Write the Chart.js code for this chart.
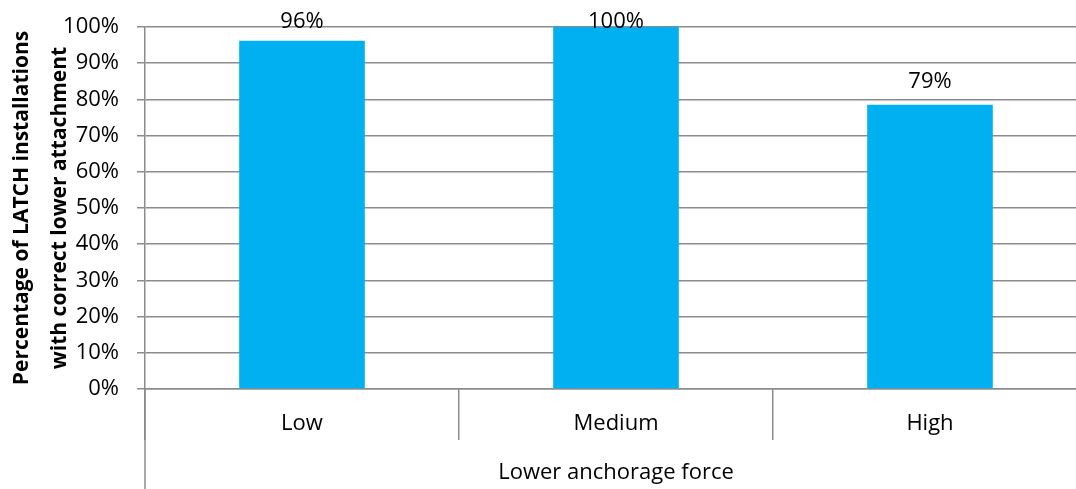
<!DOCTYPE html>
<html lang="en">
<head>
    <meta charset="UTF-8">
    <title>LATCH lower attachment</title>
    <script src="https://cdn.jsdelivr.net/npm/chart.js"></script>
    <style>
        body {
            margin: 0;
            padding: 0;
            width: 1076px;
            height: 489px;
            overflow: hidden;
            background: #fff;
        }
        #wrap {
            width: 1090px;
            height: 489px;
        }
    </style>
</head>
<body>
    <div id="wrap"><canvas id="latchChart" width="1090" height="489"></canvas></div>
    <script>
        const categories = ['Low', 'Medium', 'High'];
        const correctPct = [96.2, 100, 78.5];
        const valueLabels = ['96%', '100%', '79%'];
        const yTicks = [0, 10, 20, 30, 40, 50, 60, 70, 80, 90, 100];

        const gridGray = '#8c8c8c';
        const font = 'Open Sans';

        // value labels above each bar, kept inside the plot like Excel does
        const valueLabelPlugin = {
            id: 'valueLabels',
            afterDatasetsDraw(chart) {
                const ctx = chart.ctx;
                const meta = chart.getDatasetMeta(0);
                ctx.save();
                ctx.font = '22px "' + font + '"';
                ctx.fillStyle = '#000';
                ctx.textAlign = 'center';
                ctx.textBaseline = 'bottom';
                meta.data.forEach((bar, i) => {
                    const y = Math.max(bar.y - 12, chart.chartArea.top + 6);
                    ctx.fillText(valueLabels[i], bar.x, y);
                });
                ctx.restore();
            }
        };

        // the left axis line runs on down past the category labels
        const axisExtendPlugin = {
            id: 'axisExtend',
            afterDraw(chart) {
                const ctx = chart.ctx;
                const a = chart.chartArea;
                ctx.save();
                ctx.strokeStyle = gridGray;
                ctx.lineWidth = 1.5;
                ctx.beginPath();
                ctx.moveTo(a.left, a.bottom);
                ctx.lineTo(a.left, chart.height);
                ctx.stroke();
                ctx.restore();
            }
        };

        const ctx = document.getElementById('latchChart').getContext('2d');
        new Chart(ctx, {
            type: 'bar',
            data: {
                labels: categories,
                datasets: [{
                    data: correctPct,
                    backgroundColor: '#00b0f0',
                    barPercentage: 0.4,
                    categoryPercentage: 1
                }]
            },
            options: {
                responsive: false,
                animation: false,
                layout: { padding: { top: 27, right: 3, left: 0, bottom: 0 } },
                plugins: {
                    legend: { display: false },
                    tooltip: { enabled: false }
                },
                scales: {
                    x: {
                        offset: true,
                        grid: {
                            offset: true,
                            drawOnChartArea: false,
                            tickLength: 51,
                            color: gridGray,
                            lineWidth: 1.5
                        },
                        border: { color: gridGray, width: 1.5 },
                        ticks: {
                            color: '#000',
                            padding: -29,
                            font: { family: font, size: 22 }
                        },
                        title: {
                            display: true,
                            text: 'Lower anchorage force',
                            color: '#000',
                            font: { family: font, size: 22 },
                            padding: { top: 0, bottom: 3 }
                        },
                        afterFit(s) { s.height = 100; }
                    },
                    y: {
                        min: 0,
                        max: 100,
                        afterBuildTicks(s) { s.ticks = yTicks.map(v => ({ value: v })); },
                        grid: {
                            color: gridGray,
                            lineWidth: 1.5,
                            tickLength: 8
                        },
                        border: { color: gridGray, width: 1.5 },
                        ticks: {
                            color: '#000',
                            padding: 18,
                            font: { family: font, size: 22 },
                            callback: v => v + '%'
                        },
                        title: {
                            display: true,
                            text: ['Percentage of LATCH installations', 'with correct lower attachment'],
                            color: '#000',
                            font: { family: font, size: 21, weight: 'bold', lineHeight: '38px' },
                            padding: { top: 3, bottom: 0 }
                        },
                        afterFit(s) {
                            s.width = 145;
                            s.paddingTop = 0;
                            s.paddingBottom = 0;
                        }
                    }
                }
            },
            plugins: [valueLabelPlugin, axisExtendPlugin]
        });
    </script>
</body>
</html>
